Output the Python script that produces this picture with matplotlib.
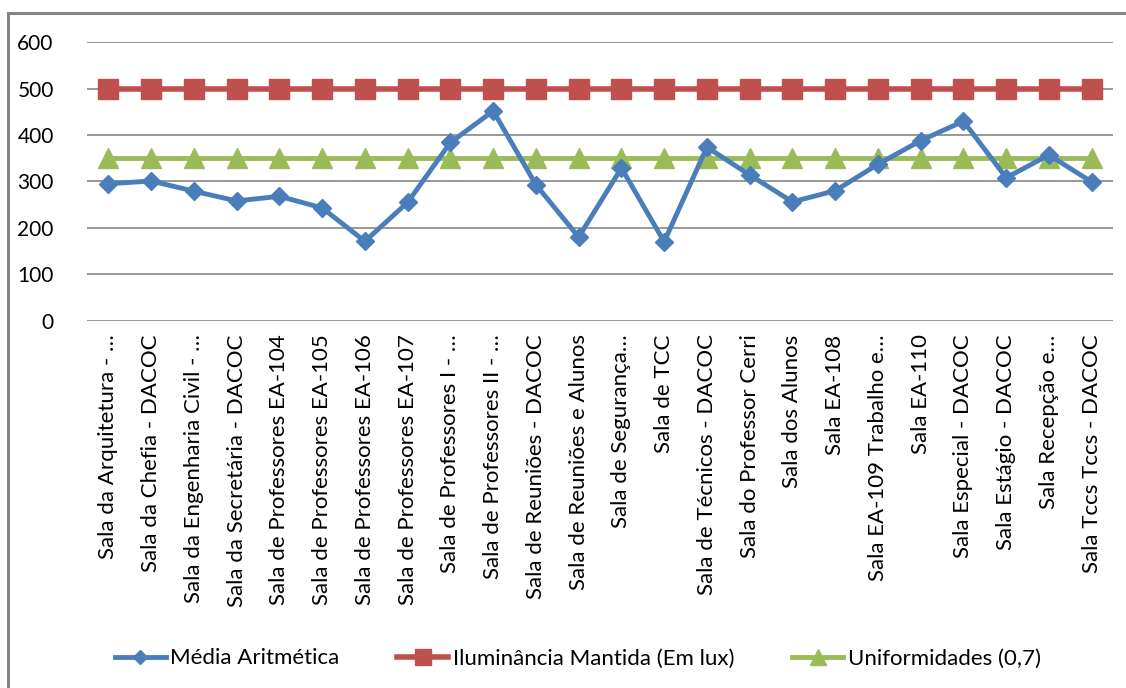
import numpy as np
import matplotlib
matplotlib.use("Agg")
import matplotlib.pyplot as plt
from matplotlib.patches import Rectangle

plt.rcParams['font.family'] = ['Lato', 'DejaVu Sans']

salas = ["Sala da Arquitetura - …", "Sala da Chefia - DACOC", "Sala da Engenharia Civil - …",
         "Sala da Secretária - DACOC", "Sala de Professores EA-104", "Sala de Professores EA-105",
         "Sala de Professores EA-106", "Sala de Professores EA-107", "Sala de Professores I - …",
         "Sala de Professores II - …", "Sala de Reuniões - DACOC", "Sala de Reuniões e Alunos",
         "Sala de Segurança…", "Sala de TCC", "Sala de Técnicos - DACOC", "Sala do Professor Cerri",
         "Sala dos Alunos", "Sala EA-108", "Sala EA-109 Trabalho e…", "Sala EA-110",
         "Sala Especial - DACOC", "Sala Estágio - DACOC", "Sala Recepção e…", "Sala Tccs Tccs - DACOC"]

media = [295, 301, 279, 258, 268, 243, 171, 255, 384, 452, 293, 180,
         329, 170, 374, 314, 256, 280, 337, 388, 430, 308, 357, 299]
iluminancia = [500] * 24
uniformidade = [350] * 24

azul = "#4A7EBB"
vermelho = "#C0504D"
verde = "#9BBB59"
cinza = "#868686"

fig = plt.figure(figsize=(11.26, 6.88), dpi=100)
ax = fig.add_axes([0.0773, 0.534, 0.9112, 0.4045])

x = np.arange(len(salas))
ax.plot(x, iluminancia, color=vermelho, lw=4, marker='s', ms=14, mec=vermelho,
        label="Iluminância Mantida (Em lux)", zorder=3)
ax.plot(x, uniformidade, color=verde, lw=3.5, marker='^', ms=14, mec=verde,
        label="Uniformidades (0,7)", zorder=4)
ax.plot(x, media, color=azul, lw=3.5, marker='D', ms=9, mec=azul,
        label="Média Aritmética", zorder=5)

ax.set_xlim(-0.5, len(salas) - 0.5)
ax.set_ylim(0, 600)
ax.set_yticks(range(0, 601, 100))
ax.yaxis.grid(True, color=cinza, lw=1.2)
ax.set_axisbelow(True)
for s in ax.spines.values():
    s.set_visible(False)
ax.tick_params(axis='y', length=0, pad=24, labelsize=15)
ax.tick_params(axis='x', length=0, pad=10, labelsize=16)
ax.set_xticks(x)
ax.set_xticklabels(salas, rotation=90)

handles, labels = ax.get_legend_handles_labels()
order = [2, 0, 1]
fig.legend([handles[i] for i in order], [labels[i] for i in order],
           loc='center', bbox_to_anchor=(0.513, 0.043), ncol=3, frameon=False,
           fontsize=16, handlelength=2.3, handletextpad=0.2, columnspacing=2.6,
           markerscale=0.8)

# moldura cinza do gráfico
fig.add_artist(Rectangle((8 / 1126, -0.05), 1.1, 1 - 13 / 688 + 0.05,
                         transform=fig.transFigure, fill=False, ec=cinza, lw=2.2))

fig.savefig("out.png", dpi=100)
